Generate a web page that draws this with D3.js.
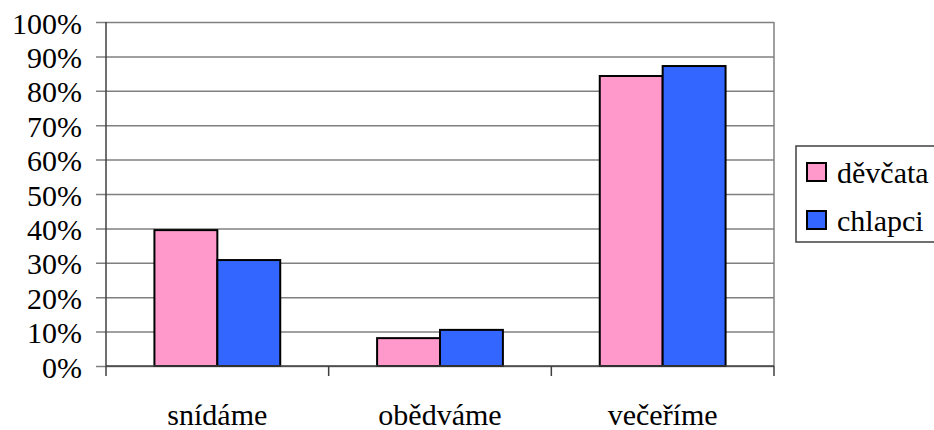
<!DOCTYPE html>
<html>
<head>
  <meta charset="UTF-8">
  <title>Chart</title>
  <script src="https://d3js.org/d3.v7.min.js"></script>
  <style>
    body, html { margin: 0; padding: 0; background: #fff; }
  </style>
</head>
<body>
  <svg width="934" height="430" font-family="Liberation Serif" style="font-family: 'Liberation Serif'"></svg>
  <script>
    let categories = ["snídáme", "obědváme", "večeříme"]
    let seriesNames = ["děvčata", "chlapci"]
    let devcata = [0.395, 0.081, 0.843]
    let chlapci = [0.308, 0.105, 0.872]
    let yTicks = [0, 0.1, 0.2, 0.3, 0.4, 0.5, 0.6, 0.7, 0.8, 0.9, 1]
    let colors = ["#ff99cc", "#3366ff"]

    let svg = d3.select("svg"),
      plot = {left: 106, right: 774, top: 22, bottom: 366}

    let xScale = d3.scaleBand()
      .domain(categories)
      .range([plot.left, plot.right])

    let inner = d3.scaleBand()
      .domain(seriesNames)
      .range([0, xScale.bandwidth()])
      .paddingOuter(0.77)

    let yScale = d3.scaleLinear()
      .domain([0, 1])
      .range([plot.bottom, plot.top])

    // grid lines with ticks out left
    let yAxis = d3.axisLeft(yScale)
      .tickValues(yTicks)
      .tickSize(-(plot.right - plot.left))
      .tickSizeOuter(0)
      .tickPadding(24)
      .tickFormat(d3.format(".0%"))

    let yGroup = svg.append("g")
      .attr("transform", `translate(${plot.left},0)`)
      .call(yAxis)
      .attr("font-family", null)
      .attr("font-size", null)
    yGroup.select(".domain").remove()
    yGroup.selectAll(".tick line")
      .attr("x1", -10)
      .attr("stroke", "#808080")
      .attr("stroke-width", 1.5)
    yGroup.selectAll(".tick text")
      .attr("x", -24)
      .attr("dy", "0.37em")
      .attr("fill", "#000")
      .style("font-family", "'Liberation Serif'")
      .style("font-size", "30px")

    // right border of plot
    svg.append("line")
      .attr("x1", plot.right).attr("x2", plot.right)
      .attr("y1", plot.top).attr("y2", plot.bottom)
      .attr("stroke", "#808080").attr("stroke-width", 1.5)

    // left axis line
    svg.append("line")
      .attr("x1", plot.left).attr("x2", plot.left)
      .attr("y1", plot.top).attr("y2", plot.bottom + 10)
      .attr("stroke", "#404040").attr("stroke-width", 1.5)

    let rows = categories.map((c, i) => ({cat: c, values: [devcata[i], chlapci[i]]}))

    svg.append("g")
      .selectAll("g")
      .data(rows)
      .enter().append("g")
      .attr("transform", d => `translate(${xScale(d.cat)},0)`)
      .selectAll("rect")
      .data(d => d.values.map((v, j) => ({name: seriesNames[j], v: v, j: j})))
      .enter().append("rect")
      .attr("x", d => inner(d.name))
      .attr("width", inner.bandwidth())
      .attr("y", d => yScale(d.v))
      .attr("height", d => yScale(0) - yScale(d.v))
      .attr("fill", d => colors[d.j])
      .attr("stroke", "#000")
      .attr("stroke-width", 2)

    // bottom axis
    let xAxis = d3.axisBottom(xScale).tickSize(0).tickPadding(38)
    let xGroup = svg.append("g")
      .attr("transform", `translate(0,${plot.bottom})`)
      .call(xAxis)
      .attr("font-family", null)
      .attr("font-size", null)
    xGroup.select(".domain")
      .attr("stroke", "#404040").attr("stroke-width", 1.5)
      .attr("d", `M${plot.left},0H${plot.right}`)
    xGroup.selectAll(".tick text")
      .attr("fill", "#000")
      .style("font-family", "'Liberation Serif'")
      .style("font-size", "30px")
    xGroup.selectAll(".sep")
      .data(categories)
      .enter().append("line")
      .attr("class", "sep")
      .attr("x1", d => xScale(d) + xScale.bandwidth())
      .attr("x2", d => xScale(d) + xScale.bandwidth())
      .attr("y1", 0).attr("y2", 10)
      .attr("stroke", "#404040").attr("stroke-width", 1.5)

    // legend
    let legend = svg.append("g").attr("transform", "translate(796,146)")
    legend.append("rect")
      .attr("x", 0).attr("y", 0)
      .attr("width", 150).attr("height", 96)
      .attr("fill", "#fff")
      .attr("stroke", "#404040").attr("stroke-width", 1.5)
    let items = legend.selectAll(".item")
      .data(seriesNames)
      .enter().append("g")
      .attr("class", "item")
      .attr("transform", (d, i) => `translate(0,${17 + i * 48})`)
    items.append("rect")
      .attr("x", 11).attr("width", 19).attr("height", 18)
      .attr("fill", (d, i) => colors[i])
      .attr("stroke", "#000").attr("stroke-width", 2)
    items.append("text")
      .attr("x", 41).attr("y", 20)
      .attr("fill", "#000")
      .style("font-family", "'Liberation Serif'")
      .style("font-size", "30px")
      .text(d => d)
  </script>
</body>
</html>
